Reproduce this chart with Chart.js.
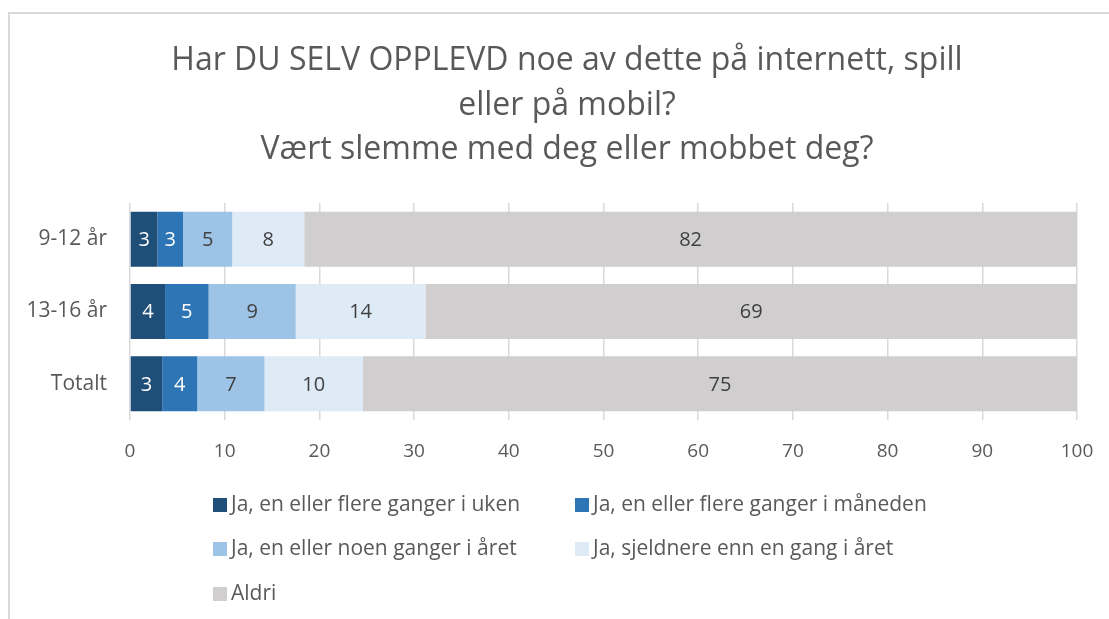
<!DOCTYPE html>
<html>
<head>
<meta charset="utf-8">
<script src="https://cdn.jsdelivr.net/npm/chart.js@4"></script>
<style>
  body { margin: 0; background: #fff; }
  #wrap { width: 1109px; height: 619px; }
</style>
</head>
<body>
<div id="wrap"><canvas id="chart" width="1109" height="619"></canvas></div>
<script>
// categories and series (percent)
const categories = ['9-12 år', '13-16 år', 'Totalt'];
const seriesNames = [
  'Ja, en eller flere ganger i uken',
  'Ja, en eller flere ganger i måneden',
  'Ja, en eller noen ganger i året',
  'Ja, sjeldnere enn en gang i året',
  'Aldri'
];
const weekly   = [2.9, 3.7, 3.4];
const monthly  = [2.7, 4.6, 3.7];
const yearly   = [5.2, 9.2, 7.1];
const rarely   = [7.6, 13.7, 10.4];
const never    = [81.6, 68.8, 75.4];
const seriesColors = ['#1f4e79', '#2e75b6', '#9dc3e6', '#deebf7', '#d0cece'];
const labelColors = ['#ffffff', '#ffffff', '#404040', '#404040', '#404040'];
const titleLines = [
  'Har DU SELV OPPLEVD noe av dette på internett, spill',
  'eller på mobil?',
  'Vært slemme med deg eller mobbet deg?'
];
const xTicks = [0, 10, 20, 30, 40, 50, 60, 70, 80, 90, 100];

const FONT = "'Open Sans', sans-serif";
const seriesValues = [weekly, monthly, yearly, rarely, never];

// frame, title, segment value labels, legend
const extras = {
  id: 'extras',
  beforeDraw(chart) {
    const c = chart.ctx;
    c.save();
    c.strokeStyle = '#d9d9d9';
    c.lineWidth = 2;
    c.beginPath();
    c.moveTo(9, 619);
    c.lineTo(9, 13);
    c.lineTo(1109, 13);
    c.stroke();
    // title (centred on the frame, not the plot)
    c.font = '32px ' + FONT;
    c.fillStyle = '#595959';
    c.textAlign = 'center';
    c.textBaseline = 'middle';
    titleLines.forEach((t, i) => c.fillText(t, 567, 61 + i * 44.5));
    c.restore();
  },
  afterDatasetsDraw(chart) {
    const c = chart.ctx;
    c.save();
    c.font = '20px ' + FONT;
    c.textAlign = 'center';
    c.textBaseline = 'middle';
    chart.data.datasets.forEach((ds, i) => {
      chart.getDatasetMeta(i).data.forEach((el, j) => {
        c.fillStyle = labelColors[i];
        c.fillText(Math.round(ds.data[j]), (el.x + el.base) / 2, el.y + 1);
      });
    });
    c.restore();
  },
  afterDraw(chart) {
    const c = chart.ctx;
    c.save();
    c.font = '21px ' + FONT;
    c.textBaseline = 'middle';
    const cols = [213, 575];
    const rows = [505, 549, 594];
    chart.data.datasets.forEach((ds, i) => {
      const x = cols[i % 2];
      const y = rows[Math.floor(i / 2)];
      c.fillStyle = ds.backgroundColor;
      c.fillRect(x, y - 7, 14, 14);
      c.fillStyle = '#595959';
      c.fillText(ds.label, x + 18, y);
    });
    c.restore();
  }
};

new Chart(document.getElementById('chart'), {
  type: 'bar',
  data: {
    labels: categories,
    datasets: seriesNames.map((name, i) => ({
      label: name,
      data: seriesValues[i],
      backgroundColor: seriesColors[i],
      borderWidth: 0,
      barPercentage: 0.76,
      categoryPercentage: 1
    }))
  },
  options: {
    indexAxis: 'y',
    responsive: false,
    animation: false,
    layout: { padding: { left: 10, right: 32, top: 203, bottom: 154 } },
    plugins: {
      legend: { display: false },
      tooltip: { enabled: false },
      title: { display: false }
    },
    scales: {
      x: {
        stacked: true,
        min: 0,
        max: 100,
        afterBuildTicks(scale) { scale.ticks = xTicks.map(v => ({ value: v })); },
        afterFit(scale) {
          scale.height = 45;
          scale.paddingLeft = 0;
          scale.paddingRight = 0;
        },
        grid: { color: '#d9d9d9', lineWidth: 1.5, drawTicks: false },
        border: { display: false },
        ticks: { color: '#595959', font: { family: FONT, size: 19 }, padding: 20 }
      },
      y: {
        stacked: true,
        afterFit(scale) { scale.width = 120; },
        grid: { display: false },
        border: { display: false },
        ticks: { color: '#595959', font: { family: FONT, size: 21 }, padding: 15 }
      }
    }
  },
  plugins: [extras]
});
</script>
</body>
</html>
